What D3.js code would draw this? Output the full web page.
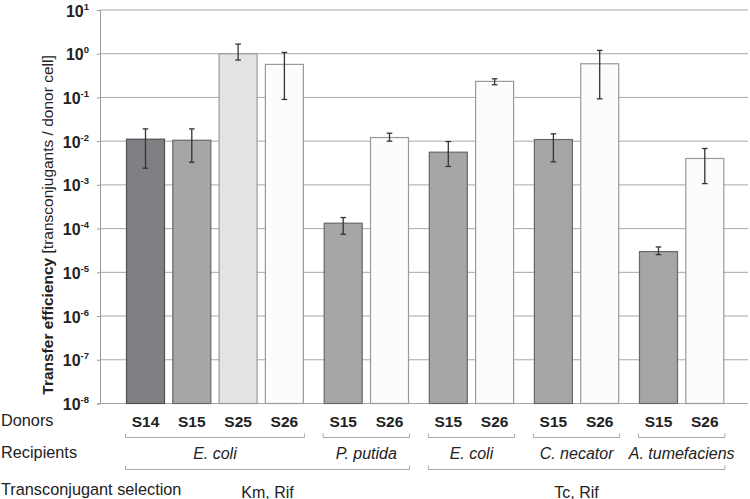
<!DOCTYPE html>
<html><head><meta charset="utf-8">
<script src="https://cdn.jsdelivr.net/npm/d3@7"></script>
<style>
html,body{margin:0;padding:0;background:#fff;}
text{font-family:"Liberation Sans",Arial,sans-serif;fill:#222;}
</style></head>
<body><svg id="c" width="750" height="499"></svg>
<script>
// ---- data ----
const donors = ["S14","S15","S25","S26","S15","S26","S15","S26","S15","S26","S15","S26"];
const recipientOfBar = [0,0,0,0,1,1,2,2,3,3,4,4];
const recipients = ["E. coli","P. putida","E. coli","C. necator","A. tumefaciens"];
const selectionOfRecipient = [0,0,1,1,1];
const selections = ["Km, Rif","Tc, Rif"];
const values  = [0.0111,0.0105,1.0,0.57,1.33e-4,0.0121,0.0056,0.233,0.0109,0.59,2.98e-5,0.00402];
const errHigh = [0.0191,0.0191,1.66,1.07,1.79e-4,0.0152,0.0098,0.267,0.0147,1.19,3.8e-5,0.0068];
const errLow  = [0.00241,0.0033,0.716,0.090,7.43e-5,0.0100,0.00264,0.195,0.00336,0.093,2.54e-5,0.00107];
const tickExponents = [-8,-7,-6,-5,-4,-3,-2,-1,0,1];
const donorFill   = {S14:"#808084",S15:"#a6a6a8",S25:"#e3e3e5",S26:"#fcfcfc"};
const donorStroke = {S14:"#505052",S15:"#68686a",S25:"#9a9a9a",S26:"#9a9a9a"};

(function(){
const svg = d3.select("#c");
const pLeft = 100, pRight = 748, pTop = 10, pBottom = 403.5;
const y = d3.scaleLog().domain([1e-8, 10]).range([pBottom, pTop]);
const G = 0.27;
const slot = i => i + G*recipientOfBar[i];
const x = d3.scaleLinear().domain([0, 11 + 4*G]).range([145.5, 704.8]);
const bw = 38;

// gridlines
svg.append("g").selectAll("line").data(tickExponents).join("line")
  .attr("x1", pLeft).attr("x2", pRight)
  .attr("y1", d => y(Math.pow(10,d))).attr("y2", d => y(Math.pow(10,d)))
  .attr("stroke", "#a8a8a8").attr("stroke-width", 1);

// y axis
const yAxis = d3.axisLeft(y).tickValues(tickExponents.map(e => Math.pow(10,e)))
  .tickSize(3).tickPadding(8).tickFormat("");
const ga = svg.append("g").attr("transform", `translate(${pLeft},0)`).call(yAxis);
ga.select(".domain").attr("stroke","#999");
ga.selectAll(".tick line").attr("stroke","#999");
ga.selectAll(".tick").each(function(d){
  const e = Math.round(Math.log10(d));
  const t = d3.select(this).append("text")
    .attr("x", -11).attr("y", 6).attr("text-anchor","end")
    .style("font-weight","bold").style("font-size","16px").attr("fill","#222");
  t.append("tspan").text("10");
  t.append("tspan").attr("dy",-7).style("font-size","9.5px").text(String(e));
});

// bars
const idx = d3.range(values.length);
svg.append("g").selectAll("rect").data(idx).join("rect")
  .attr("x", i => x(slot(i)) - bw/2).attr("width", bw)
  .attr("y", i => y(values[i])).attr("height", i => pBottom - y(values[i]))
  .attr("fill", i => donorFill[donors[i]])
  .attr("stroke", i => donorStroke[donors[i]]).attr("stroke-width", 1.2);

// error bars
const eg = svg.append("g").attr("stroke","#333").attr("stroke-width",1.3);
idx.forEach(i => {
  const cx = x(slot(i));
  eg.append("line").attr("x1",cx).attr("x2",cx).attr("y1",y(errHigh[i])).attr("y2",y(errLow[i]));
  eg.append("line").attr("x1",cx-2.8).attr("x2",cx+2.8).attr("y1",y(errHigh[i])).attr("y2",y(errHigh[i]));
  eg.append("line").attr("x1",cx-2.8).attr("x2",cx+2.8).attr("y1",y(errLow[i])).attr("y2",y(errLow[i]));
});

// donor labels
svg.append("g").selectAll("text").data(idx).join("text")
  .attr("x", i => x(slot(i))).attr("y", 426.5).attr("text-anchor","middle")
  .style("font-weight","bold").style("font-size","15.5px").text(i => donors[i]);

// brackets
const bracket = (g, x1, x2, yy) => {
  g.append("path").attr("d", `M${x1},${yy-4}V${yy}H${x2}V${yy-4}`)
    .attr("fill","none").attr("stroke","#aaa").attr("stroke-width",1);
};
const bg = svg.append("g");
recipients.forEach((r, ri) => {
  const bars = idx.filter(i => recipientOfBar[i] === ri);
  const x1 = x(slot(bars[0])) - bw/2 - 1, x2 = x(slot(bars[bars.length-1])) + bw/2 + 1;
  const cx = (x1 + x2)/2;
  bracket(bg, x1, x2, 437.5);
  bg.append("text").attr("x", cx).attr("y", 458.5).attr("text-anchor","middle")
    .style("font-style","italic").style("font-size","16px").text(r);
});
selections.forEach((s, si) => {
  const recs = d3.range(recipients.length).filter(r => selectionOfRecipient[r] === si);
  const bars = idx.filter(i => recs.includes(recipientOfBar[i]));
  const x1 = x(slot(bars[0])) - bw/2 - 1, x2 = x(slot(bars[bars.length-1])) + bw/2 + 1;
  bracket(bg, x1, x2, 469.5);
  bg.append("text").attr("x", (x1+x2)/2).attr("y", 497.5).attr("text-anchor","middle")
    .style("font-size","16px").text(s);
});

// row titles
const rowTitles = [["Donors",426],["Recipients",457.5],["Transconjugant selection",495]];
svg.append("g").selectAll("text").data(rowTitles).join("text")
  .attr("x", 1).attr("y", d => d[1]).style("font-size","16.3px").text(d => d[0]);

// y label
const yl = svg.append("text").attr("transform","translate(52.5,225) rotate(-90)")
  .attr("text-anchor","middle").style("font-size","15.5px");
yl.append("tspan").style("font-weight","bold").text("Transfer efficiency");
yl.append("tspan").text(" [transconjugants / donor cell]");
})();
</script></body></html>
